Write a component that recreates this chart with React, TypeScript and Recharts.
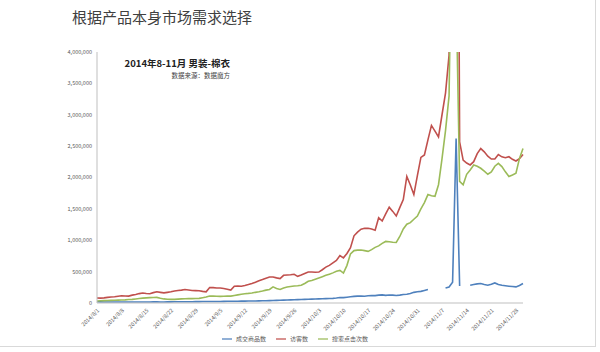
import React from 'react';
import { LineChart, Line, XAxis, YAxis, Legend } from 'recharts';

// months covered: [month, days]
const MONTHS = [[8, 31], [9, 30], [10, 31], [11, 30]];
const dates: string[] = [];
MONTHS.forEach(([m, n]) => {
  for (let d = 1; d <= n; d++) dates.push(`2014/${m}/${d}`);
});

// 成交商品数
const deals = [20000, 18000, 17000, 16000, 16000, 15000, 15000, 16000, 17000, 16000,
  15000, 15000, 16000, 16000, 17000, 17000, 18000, 18000, 17000, 17000,
  18000, 18000, 19000, 19000, 20000, 20000, 21000, 21000, 22000, 22000,
  23000, 23000, 24000, 24000, 25000, 25000, 26000, 27000, 28000, 28000,
  29000, 30000, 30000, 31000, 32000, 33000, 34000, 35000, 36000, 38000,
  40000, 42000, 44000, 46000, 48000, 50000, 52000, 54000, 56000, 58000,
  60000, 62000, 64000, 66000, 68000, 70000, 72000, 74000, 80000, 88000,
  85000, 92000, 100000, 105000, 110000, 112000, 108000, 115000, 120000, 118000,
  125000, 130000, 122000, 128000, 126000, 120000, 125000, 135000, 140000, 150000,
  170000, 178000, 185000, 200000, 216000, null, null, null, null, 240000,
  255000, 330000, 2620000, 270000, null, null, 283000, 295000, 305000, 310000,
  295000, 283000, 300000, 320000, 295000, 283000, 275000, 268000, 262000, 257000,
  280000, 310000];

// 访客数
const visitors = [80000, 78000, 82000, 90000, 95000, 100000, 108000, 115000, 112000, 110000,
  125000, 135000, 150000, 160000, 152000, 148000, 165000, 178000, 170000, 162000,
  170000, 178000, 190000, 200000, 205000, 215000, 208000, 200000, 198000, 194000,
  185000, 178000, 247000, 245000, 240000, 238000, 231000, 220000, 205000, 268000,
  270000, 268000, 280000, 294000, 310000, 330000, 355000, 373000, 395000, 414000,
  414000, 400000, 389000, 441000, 445000, 450000, 457000, 425000, 445000, 470000,
  493000, 495000, 490000, 493000, 530000, 572000, 600000, 640000, 677000, 756000,
  720000, 790000, 880000, 1071000, 1130000, 1176000, 1190000, 1192000, 1180000, 1160000,
  1360000, 1307000, 1420000, 1528000, 1460000, 1386000, 1520000, 1649000, 2016000, 1880000,
  1728000, 2030000, 2320000, 2360000, 2600000, 2830000, 2740000, 2646000, 3000000, 3350000,
  3950000, 9000000, 14000000, 2567000, 2278000, 2230000, 2200000, 2252000, 2380000, 2461000,
  2409000, 2340000, 2294000, 2294000, 2367000, 2330000, 2315000, 2331000, 2290000, 2263000,
  2300000, 2367000];

// 搜索点击次数
const clicks = [31000, 35000, 38000, 40000, 42000, 45000, 46000, 47000, 50000, 55000,
  58000, 65000, 72000, 78000, 82000, 85000, 88000, 90000, 75000, 65000,
  60000, 58000, 58000, 62000, 65000, 68000, 72000, 70000, 72000, 74000,
  85000, 95000, 110000, 112000, 108000, 105000, 108000, 110000, 110000, 120000,
  130000, 140000, 148000, 153000, 160000, 170000, 178000, 190000, 205000, 216000,
  257000, 230000, 216000, 240000, 255000, 262000, 270000, 275000, 283000, 310000,
  346000, 360000, 380000, 400000, 420000, 441000, 460000, 480000, 505000, 520000,
  477000, 600000, 783000, 835000, 842000, 845000, 835000, 823000, 850000, 887000,
  910000, 950000, 981000, 975000, 968000, 965000, 1060000, 1180000, 1255000, 1281000,
  1334000, 1386000, 1500000, 1600000, 1728000, 1710000, 1701000, 1885000, 2300000, 2751000,
  3300000, 7000000, 5000000, 1937000, 1885000, 2050000, 2121000, 2200000, 2180000, 2147000,
  2100000, 2052000, 2090000, 2180000, 2226000, 2173000, 2090000, 2016000, 2040000, 2068000,
  2304000, 2461000];

const yTicks = [0, 500000, 1000000, 1500000, 2000000, 2500000, 3000000, 3500000, 4000000];
const seriesOrder = ['成交商品数', '访客数', '搜索点击次数'];

const data = dates.map((date, i) => ({
  date,
  deals: deals[i],
  visitors: visitors[i],
  clicks: clicks[i],
}));

const FONT = '"Noto Sans CJK SC", "Noto Sans", sans-serif';
const GREY = '#595959';

export default function App() {
  return (
    <div style={{ position: 'absolute', left: 0, top: 0, width: 600, height: 352, background: '#fff', fontFamily: FONT }}>
      <div style={{ position: 'absolute', left: 72, top: 6, fontSize: 15, color: '#404040', whiteSpace: 'nowrap' }}>
        根据产品本身市场需求选择
      </div>
      <div style={{ position: 'absolute', right: 370, top: 56, fontSize: 9.5, fontWeight: 'bold', color: '#222', whiteSpace: 'nowrap' }}>
        2014年8-11月 男装-棉衣
      </div>
      <div style={{ position: 'absolute', right: 370, top: 70, fontSize: 6.5, color: '#444', whiteSpace: 'nowrap' }}>
        数据来源：数据魔方
      </div>
      <LineChart width={600} height={352} data={data} margin={{ top: 52, right: 77, left: 37, bottom: 4 }}>
        <XAxis
          dataKey="date"
          interval={6}
          height={31}
          angle={-45}
          textAnchor="end"
          tickLine={false}
          tickSize={3}
          tick={{ fontSize: 5.5, fill: GREY, fontFamily: FONT }}
          stroke="#bfbfbf"
        />
        <YAxis
          width={60}
          domain={[0, 4000000]}
          allowDataOverflow
          ticks={yTicks}
          tickFormatter={(v: number) => v.toLocaleString('en-US')}
          tickLine={false}
          tickSize={3}
          tickMargin={2}
          tick={{ fontSize: 5.5, fill: GREY, fontFamily: FONT }}
          stroke="#bfbfbf"
        />
        <Legend
          verticalAlign="bottom"
          height={14}
          iconType="plainline"
          iconSize={10}
          itemSorter={(item: any) => seriesOrder.indexOf(item.value)}
          wrapperStyle={{ left: 0, width: 600, fontSize: 6, fontFamily: FONT }}
          formatter={(value: string) => <span style={{ color: GREY }}>{value}</span>}
        />
        <Line name="成交商品数" dataKey="deals" stroke="#4F81BD" strokeWidth={1.6} dot={false} isAnimationActive={false} />
        <Line name="访客数" dataKey="visitors" stroke="#C0504D" strokeWidth={1.6} dot={false} isAnimationActive={false} />
        <Line name="搜索点击次数" dataKey="clicks" stroke="#9BBB59" strokeWidth={1.6} dot={false} isAnimationActive={false} />
      </LineChart>
      <div style={{ position: 'absolute', left: 0, top: 346, width: 596, height: 1, background: '#d9d9d9' }} />
      <div style={{ position: 'absolute', left: 595, top: 0, width: 1, height: 347, background: '#d9d9d9' }} />
    </div>
  );
}
